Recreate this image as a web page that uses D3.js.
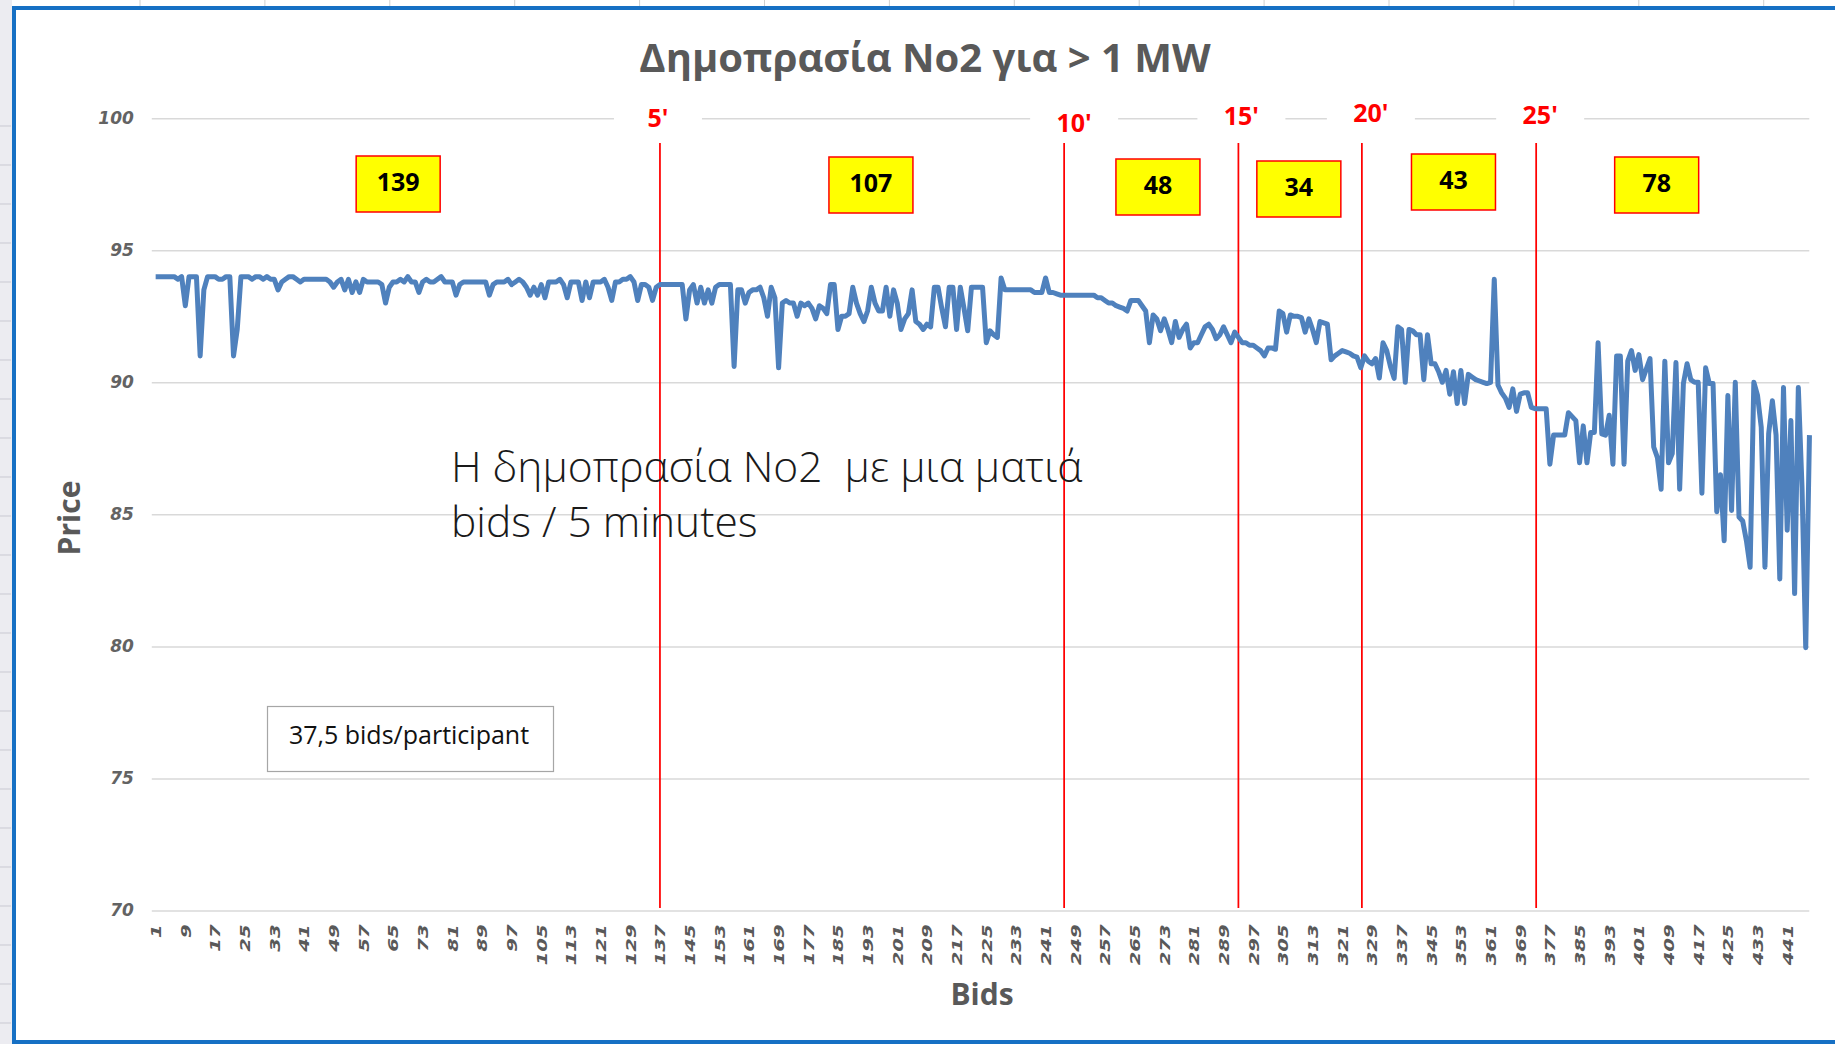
<!DOCTYPE html>
<html>
<head>
<meta charset="utf-8">
<script src="https://cdn.jsdelivr.net/npm/d3@7"></script>
<style>
  body { margin: 0; background: #fff; }
  svg { display: block; }
</style>
</head>
<body>
<div id="chart"></div>
<script>
const width = 1835
const height = 1044

// price of every bid, in the order the bids came in
const prices = [
  94.0, 94.0, 94.0, 94.0, 94.0, 94.0, 93.9, 94.0, 92.9, 94.0,
  94.0, 94.0, 91.0, 93.5, 94.0, 94.0, 94.0, 93.9, 93.9, 94.0,
  94.0, 91.0, 92.0, 94.0, 94.0, 94.0, 93.9, 94.0, 94.0, 93.9,
  94.0, 93.9, 93.9, 93.5, 93.8, 93.9, 94.0, 94.0, 93.9, 93.8,
  93.9, 93.9, 93.9, 93.9, 93.9, 93.9, 93.9, 93.8, 93.6, 93.8,
  93.9, 93.5, 93.9, 93.4, 93.8, 93.4, 93.9, 93.8, 93.8, 93.8,
  93.8, 93.7, 93.0, 93.6, 93.8, 93.8, 93.9, 93.8, 94.0, 93.8,
  93.8, 93.4, 93.8, 93.9, 93.8, 93.8, 93.9, 94.0, 93.8, 93.8,
  93.8, 93.3, 93.7, 93.8, 93.8, 93.8, 93.8, 93.8, 93.8, 93.8,
  93.3, 93.7, 93.8, 93.8, 93.8, 93.9, 93.7, 93.8, 93.9, 93.8,
  93.6, 93.3, 93.6, 93.3, 93.7, 93.2, 93.8, 93.8, 93.8, 93.9,
  93.7, 93.2, 93.8, 93.8, 93.8, 93.1, 93.8, 93.2, 93.8, 93.8,
  93.8, 93.9, 93.6, 93.1, 93.8, 93.8, 93.9, 93.9, 94.0, 93.8,
  93.1, 93.7, 93.7, 93.6, 93.1, 93.6, 93.7, 93.7, 93.7, 93.7,
  93.7, 93.7, 93.7, 92.4, 93.5, 93.7, 93.0, 93.6, 93.0, 93.5,
  93.0, 93.6, 93.7, 93.7, 93.7, 93.7, 90.6, 93.5, 93.5, 93.0,
  93.4, 93.5, 93.5, 93.6, 93.2, 92.5, 93.6, 93.2, 90.55, 93.0,
  93.1, 93.0, 93.0, 92.5, 93.0, 92.9, 93.0, 92.8, 92.4, 92.9,
  92.8, 92.6, 93.7, 93.7, 92.0, 92.5, 92.5, 92.6, 93.6, 93.0,
  92.6, 92.3, 92.7, 93.6, 93.0, 92.7, 92.7, 93.6, 92.5, 93.5,
  93.0, 92.0, 92.4, 92.6, 93.5, 92.3, 92.2, 92.0, 92.2, 92.1,
  93.6, 93.6, 92.8, 92.1, 93.6, 93.6, 92.0, 93.6, 92.8, 91.95,
  93.6, 93.6, 93.6, 93.6, 91.5, 91.95, 91.8, 91.7, 93.95, 93.5,
  93.5, 93.5, 93.5, 93.5, 93.5, 93.5, 93.5, 93.4, 93.4, 93.4,
  93.95, 93.4, 93.4, 93.35, 93.3, 93.3, 93.3, 93.3, 93.3, 93.3,
  93.3, 93.3, 93.3, 93.3, 93.2, 93.2, 93.1, 93.0, 93.0, 92.9,
  92.85, 92.8, 92.7, 93.1, 93.1, 93.1, 92.9, 92.7, 91.5, 92.55,
  92.4, 91.95, 92.4, 92.0, 91.5, 92.3, 91.7, 92.0, 92.2, 91.3,
  91.5, 91.5, 91.8, 92.1, 92.2, 92.0, 91.65, 91.8, 92.1, 91.8,
  91.5, 91.9, 91.7, 91.5, 91.5, 91.4, 91.4, 91.3, 91.2, 91.0,
  91.3, 91.3, 91.25, 92.7, 92.6, 91.9, 92.55, 92.5, 92.5, 92.45,
  91.9, 92.4, 92.0, 91.5, 92.3, 92.25, 92.2, 90.85, 91.0, 91.1,
  91.2, 91.15, 91.1, 91.0, 90.95, 90.55, 91.0, 90.8, 90.7, 90.9,
  90.16, 91.5, 91.2, 90.6, 90.15, 92.1, 92.0, 90.0, 92.0, 91.95,
  91.8, 91.8, 90.1, 91.8, 90.7, 90.7, 90.4, 90.0, 90.45, 89.55,
  90.4, 89.2, 90.45, 89.2, 90.3, 90.2, 90.1, 90.05, 90.0, 89.95,
  90.0, 93.9, 89.9, 89.6, 89.4, 89.05, 89.75, 88.9, 89.55, 89.6,
  89.6, 89.05, 89.0, 89.0, 89.0, 89.0, 86.9, 88.0, 88.0, 88.0,
  88.0, 88.85, 88.7, 88.55, 86.95, 88.35, 86.95, 88.1, 88.1, 91.5,
  88.05, 88.0, 88.75, 86.9, 91.0, 91.0, 86.9, 90.8, 91.2, 90.45,
  91.05, 90.1, 90.5, 90.9, 87.55, 87.15, 85.95, 90.8, 86.95, 87.3,
  90.75, 85.95, 89.95, 90.7, 90.1, 90.0, 90.0, 85.8, 90.55, 89.95,
  89.95, 85.1, 86.5, 84.0, 89.5, 85.15, 90.0, 84.9, 84.75, 84.0,
  83.0, 90.0, 89.5, 88.3, 83.0, 88.05, 89.3, 88.0, 82.55, 89.8,
  84.4, 88.55, 82.0, 89.8, 86.0, 79.95, 88.0
]
const bids = prices.map((d, i) => i + 1)
const xTickLabels = bids.filter(b => (b - 1) % 8 === 0)
const yTicks = [70, 75, 80, 85, 90, 95, 100]

// where each 5 minute mark fell, in bids
const minuteBids = [137, 246, 293, 326.3, 373.3]
const minuteLabels = ["5'", "10'", "15'", "20'", "25'"]
// bids placed in each 5 minute slot
const bidCounts = [139, 107, 48, 34, 43, 78]

const titleText = "Δημοπρασία Νο2 για > 1 MW"
const noteLines = ["Η δημοπρασία Νο2  με μια ματιά", "bids / 5 minutes"]
const participantNote = "37,5 bids/participant"

// layout
const plot = {left: 153.8, right: 1811.3, top: 118.2, bottom: 910.5}
const countBoxes = [  // centre (in bids) and top (px) of the yellow boxes
  {bid: 66.4, top: 156}, {bid: 193.9, top: 157}, {bid: 271.3, top: 159},
  {bid: 309.3, top: 161}, {bid: 351.0, top: 154}, {bid: 405.8, top: 157}
]
const minuteLabelPos = [{dx: -2, y: 127}, {dx: 10, y: 132}, {dx: 3, y: 125}, {dx: 9, y: 122}, {dx: 4, y: 124}]
const uiFont = "'Open Sans', 'Noto Sans', sans-serif"

const svg = d3.select("#chart")
              .append("svg")
              .attr("width", width)
              .attr("height", height)

const x = d3.scaleLinear()
            .domain([0.5, prices.length + 0.5])
            .range([plot.left, plot.right])
const y = d3.scaleLinear()
            .domain([70, 100])
            .range([plot.bottom, plot.top])

// spreadsheet around the chart
svg.append("rect").attr("width", width).attr("height", height).attr("fill", "#fff")
svg.append("rect").attr("x", 0).attr("y", 0).attr("width", 12).attr("height", height).attr("fill", "#ececf1")
svg.append("g")
   .selectAll("line")
   .data(d3.range(126, height, 39))
   .enter()
   .append("line")
   .attr("x1", 0).attr("x2", 11)
   .attr("y1", d => d).attr("y2", d => d)
   .attr("stroke", "#c9c9d2")
svg.append("g")
   .selectAll("line")
   .data(d3.range(140, width, 124.9))
   .enter()
   .append("line")
   .attr("x1", d => d).attr("x2", d => d)
   .attr("y1", 0).attr("y2", 6)
   .attr("stroke", "#d0d0d0")
svg.append("rect").attr("x", 12).attr("y", 6).attr("width", width - 12).attr("height", 4).attr("fill", "#1670c4")
svg.append("rect").attr("x", 12).attr("y", 6).attr("width", 4).attr("height", height - 6).attr("fill", "#1670c4")
svg.append("rect").attr("x", 12).attr("y", 1040).attr("width", width - 12).attr("height", 4).attr("fill", "#1670c4")

// gridlines
svg.append("g")
   .attr("transform", `translate(${plot.left - 2},0)`)
   .call(d3.axisLeft(y).tickValues(yTicks).tickSize(-(plot.right - plot.left)).tickFormat(""))
   .call(g => g.select(".domain").remove())
   .call(g => g.selectAll("line").attr("stroke", "#d9d9d9").attr("stroke-width", 1.5))

// y labels
svg.append("g")
   .attr("transform", `translate(${plot.left},0)`)
   .call(d3.axisLeft(y).tickValues(yTicks).tickSize(0).tickPadding(20))
   .call(g => g.select(".domain").remove())
   .call(g => g.selectAll("text")
               .attr("font-family", "'DejaVu Sans', sans-serif")
               .attr("font-style", "italic")
               .attr("font-weight", "bold")
               .attr("font-size", 17)
               .attr("fill", "#636363"))

// x labels, rotated
svg.append("g")
   .attr("transform", `translate(0,${plot.bottom})`)
   .call(d3.axisBottom(x).tickValues(xTickLabels).tickSize(0).tickFormat(d3.format("d")))
   .call(g => g.select(".domain").remove())
   .call(g => g.selectAll("text")
               .attr("x", null).attr("y", null).attr("dy", null)
               .attr("transform", "translate(0,14) rotate(-90) scale(1.45,1)")
               .attr("text-anchor", "end")
               .attr("dominant-baseline", "central")
               .attr("font-family", "'DejaVu Sans', sans-serif")
               .attr("font-style", "italic")
               .attr("font-weight", "bold")
               .attr("font-size", 13.5)
               .attr("fill", "#595959"))

// axis titles
svg.append("text")
   .attr("x", 982).attr("y", 1005)
   .attr("text-anchor", "middle")
   .attr("font-family", uiFont).attr("font-weight", "bold").attr("font-size", 30)
   .attr("fill", "#595959")
   .text("Bids")
svg.append("text")
   .attr("transform", "translate(80,518) rotate(-90)")
   .attr("text-anchor", "middle")
   .attr("font-family", uiFont).attr("font-weight", "bold").attr("font-size", 30)
   .attr("fill", "#595959")
   .text("Price")

// title
svg.append("text")
   .attr("x", 925).attr("y", 72)
   .attr("text-anchor", "middle")
   .attr("font-family", uiFont).attr("font-weight", "bold").attr("font-size", 40)
   .attr("fill", "#595959")
   .text(titleText)

// minute marks
const marks = svg.append("g")
marks.selectAll("line")
     .data(minuteBids)
     .enter()
     .append("line")
     .attr("x1", d => x(d)).attr("x2", d => x(d))
     .attr("y1", 143).attr("y2", 908)
     .attr("stroke", "#ff0000")
     .attr("stroke-width", 1.75)
const markLabel = marks.selectAll("g.label")
     .data(minuteBids)
     .enter()
     .append("g")
     .attr("class", "label")
     .attr("transform", (d, i) => `translate(${x(d) + minuteLabelPos[i].dx},${minuteLabelPos[i].y})`)
markLabel.append("rect")
     .attr("x", -44).attr("y", -30).attr("width", 88).attr("height", 40)
     .attr("fill", "#fff")
markLabel.append("text")
     .attr("text-anchor", "middle")
     .attr("font-family", uiFont).attr("font-weight", "bold").attr("font-size", 25)
     .attr("fill", "#ff0000")
     .text((d, i) => minuteLabels[i])

// the price line
svg.append("path")
   .datum(prices)
   .attr("fill", "none")
   .attr("stroke", "#4f81bd")
   .attr("stroke-width", 5)
   .attr("stroke-linejoin", "round")
   .attr("d", d3.line().x((d, i) => x(bids[i])).y(d => y(d)))

// bid counts per slot
const box = svg.append("g")
   .selectAll("g")
   .data(bidCounts)
   .enter()
   .append("g")
   .attr("transform", (d, i) => `translate(${x(countBoxes[i].bid)},${countBoxes[i].top})`)
box.append("rect")
   .attr("x", -42).attr("y", 0).attr("width", 84).attr("height", 56)
   .attr("fill", "#ffff00")
   .attr("stroke", "#ff0000")
   .attr("stroke-width", 1.5)
box.append("text")
   .attr("y", 35)
   .attr("text-anchor", "middle")
   .attr("font-family", uiFont).attr("font-weight", "bold").attr("font-size", 25)
   .attr("fill", "#000")
   .text(d => d)

// notes
svg.append("text")
   .attr("font-family", uiFont).attr("font-weight", 300).attr("font-size", 42.5)
   .attr("fill", "#1a1a1a")
   .style("white-space", "pre")
   .selectAll("tspan")
   .data(noteLines)
   .enter()
   .append("tspan")
   .attr("x", 451)
   .attr("y", (d, i) => 482 + 55 * i)
   .text(d => d)

svg.append("rect")
   .attr("x", 267.5).attr("y", 706.5).attr("width", 286).attr("height", 65)
   .attr("fill", "#fff")
   .attr("stroke", "#a6a6a6")
   .attr("stroke-width", 1.2)
svg.append("text")
   .attr("x", 409).attr("y", 744)
   .attr("text-anchor", "middle")
   .attr("font-family", uiFont).attr("font-size", 25)
   .attr("fill", "#111")
   .text(participantNote)
</script>
</body>
</html>
